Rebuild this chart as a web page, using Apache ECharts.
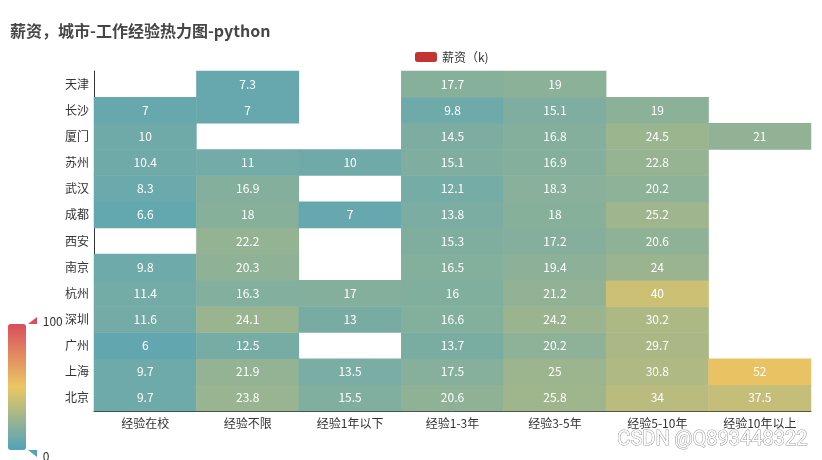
<!DOCTYPE html>
<html>

<head>
    <meta charset="utf-8" />
    <script type="text/javascript" src="https://cdn.jsdelivr.net/npm/echarts@6/dist/echarts.min.js"></script>
    <title>薪资热力图</title>
</head>

<body style="margin:0;">
    <div id="main" style="width: 822px;height:460px;"></div>
    <script type="text/javascript">
    // 横轴：工作经验
    var expList = ['经验在校', '经验不限', '经验1年以下', '经验1-3年', '经验3-5年', '经验5-10年', '经验10年以上'];
    // 纵轴：城市（自下而上）
    var cityList = ['北京', '上海', '广州', '深圳', '杭州', '南京', '西安', '成都', '武汉', '苏州', '厦门', '长沙', '天津'];
    // 每个城市按经验的薪资(k)，null 表示无数据
    var salBeijing = [9.7, 23.8, 15.5, 20.6, 25.8, 34, 37.5];
    var salShanghai = [9.7, 21.9, 13.5, 17.5, 25, 30.8, 52];
    var salGuangzhou = [6, 12.5, null, 13.7, 20.2, 29.7, null];
    var salShenzhen = [11.6, 24.1, 13, 16.6, 24.2, 30.2, null];
    var salHangzhou = [11.4, 16.3, 17, 16, 21.2, 40, null];
    var salNanjing = [9.8, 20.3, null, 16.5, 19.4, 24, null];
    var salXian = [null, 22.2, null, 15.3, 17.2, 20.6, null];
    var salChengdu = [6.6, 18, 7, 13.8, 18, 25.2, null];
    var salWuhan = [8.3, 16.9, null, 12.1, 18.3, 20.2, null];
    var salSuzhou = [10.4, 11, 10, 15.1, 16.9, 22.8, null];
    var salXiamen = [10, null, null, 14.5, 16.8, 24.5, 21];
    var salChangsha = [7, 7, null, 9.8, 15.1, 19, null];
    var salTianjin = [null, 7.3, null, 17.7, 19, null, null];

    var rows = [salBeijing, salShanghai, salGuangzhou, salShenzhen, salHangzhou, salNanjing,
        salXian, salChengdu, salWuhan, salSuzhou, salXiamen, salChangsha, salTianjin];

    var heatData = [];
    for (var y = 0; y < rows.length; y++) {
        for (var x = 0; x < rows[y].length; x++) {
            if (rows[y][x] != null) {
                heatData.push([x, y, rows[y][x]]);
            }
        }
    }

    var fontCJK = '"Noto Sans CJK SC", "Noto Sans", sans-serif';
    var myChart = echarts.init(document.getElementById('main'));
    var option = {
        animation: false,
        textStyle: { fontFamily: fontCJK },
        title: {
            text: '薪资，城市-工作经验热力图-python',
            left: 5,
            top: 18,
            textStyle: { fontSize: 16, fontWeight: 'bold', color: '#464646', fontFamily: fontCJK }
        },
        legend: {
            left: 410,
            top: 46,
            itemWidth: 22,
            itemHeight: 10,
            itemGap: 10,
            textStyle: { color: '#333', fontSize: 12 },
            data: ['薪资（k)']
        },
        grid: {
            left: 94,
            right: 11,
            top: 71,
            bottom: 49
        },
        xAxis: {
            type: 'category',
            data: expList,
            axisLine: { lineStyle: { color: '#333' } },
            axisTick: { lineStyle: { color: '#333' } },
            axisLabel: { color: '#333', fontSize: 12, margin: 6 },
            splitArea: { show: false }
        },
        yAxis: {
            type: 'category',
            data: cityList,
            axisLine: { lineStyle: { color: '#333' } },
            axisTick: { lineStyle: { color: '#333' } },
            axisLabel: { color: '#333', fontSize: 12, margin: 5 }
        },
        visualMap: {
            type: 'continuous',
            min: 0,
            max: 100,
            calculable: true,
            orient: 'vertical',
            left: -7,
            bottom: -17,
            itemWidth: 18,
            itemHeight: 126,
            handleIcon: 'path://M0,10 L10,0 L10,10 Z',
            handleSize: '60%',
            handleStyle: { opacity: 0 },
            // 手柄旁的数值往右挪，让出三角形的位置
            formatter: function (value) {
                var v = Math.round(value);
                return '{' + (v >= 50 ? 'hi' : 'lo') + '|\u2003\u2005' + v + '}';
            },
            textStyle: {
                color: '#333',
                rich: {
                    hi: { color: '#333', padding: [0, 0, 6, 0] },
                    lo: { color: '#333', padding: [12, 0, 0, 0] }
                }
            },
            inRange: { color: ['#50a3ba', '#eac763', '#d94e5d'] }
        },
        series: [{
            name: '薪资（k)',
            type: 'heatmap',
            data: heatData,
            itemStyle: { color: '#c23531' },
            label: {
                show: true,
                color: '#fff',
                fontSize: 12
            }
        }],
        graphic: [{
            // 视觉映射手柄的三角形
            type: 'polygon',
            shape: { points: [[28, 324], [37, 317], [37, 324]] },
            style: { fill: '#d94e5d' }
        }, {
            type: 'polygon',
            shape: { points: [[28, 450], [37, 450], [37, 457]] },
            style: { fill: '#50a3ba' }
        }, {
            type: 'text',
            right: 14,
            top: 429,
            style: {
                text: 'CSDN @Q893448322',
                fontSize: 20,
                fontFamily: 'Roboto, "DejaVu Sans", sans-serif',
                fill: '#fff',
                stroke: '#999',
                lineWidth: 1
            }
        }]
    };
    myChart.setOption(option);
    </script>
</body>

</html>
